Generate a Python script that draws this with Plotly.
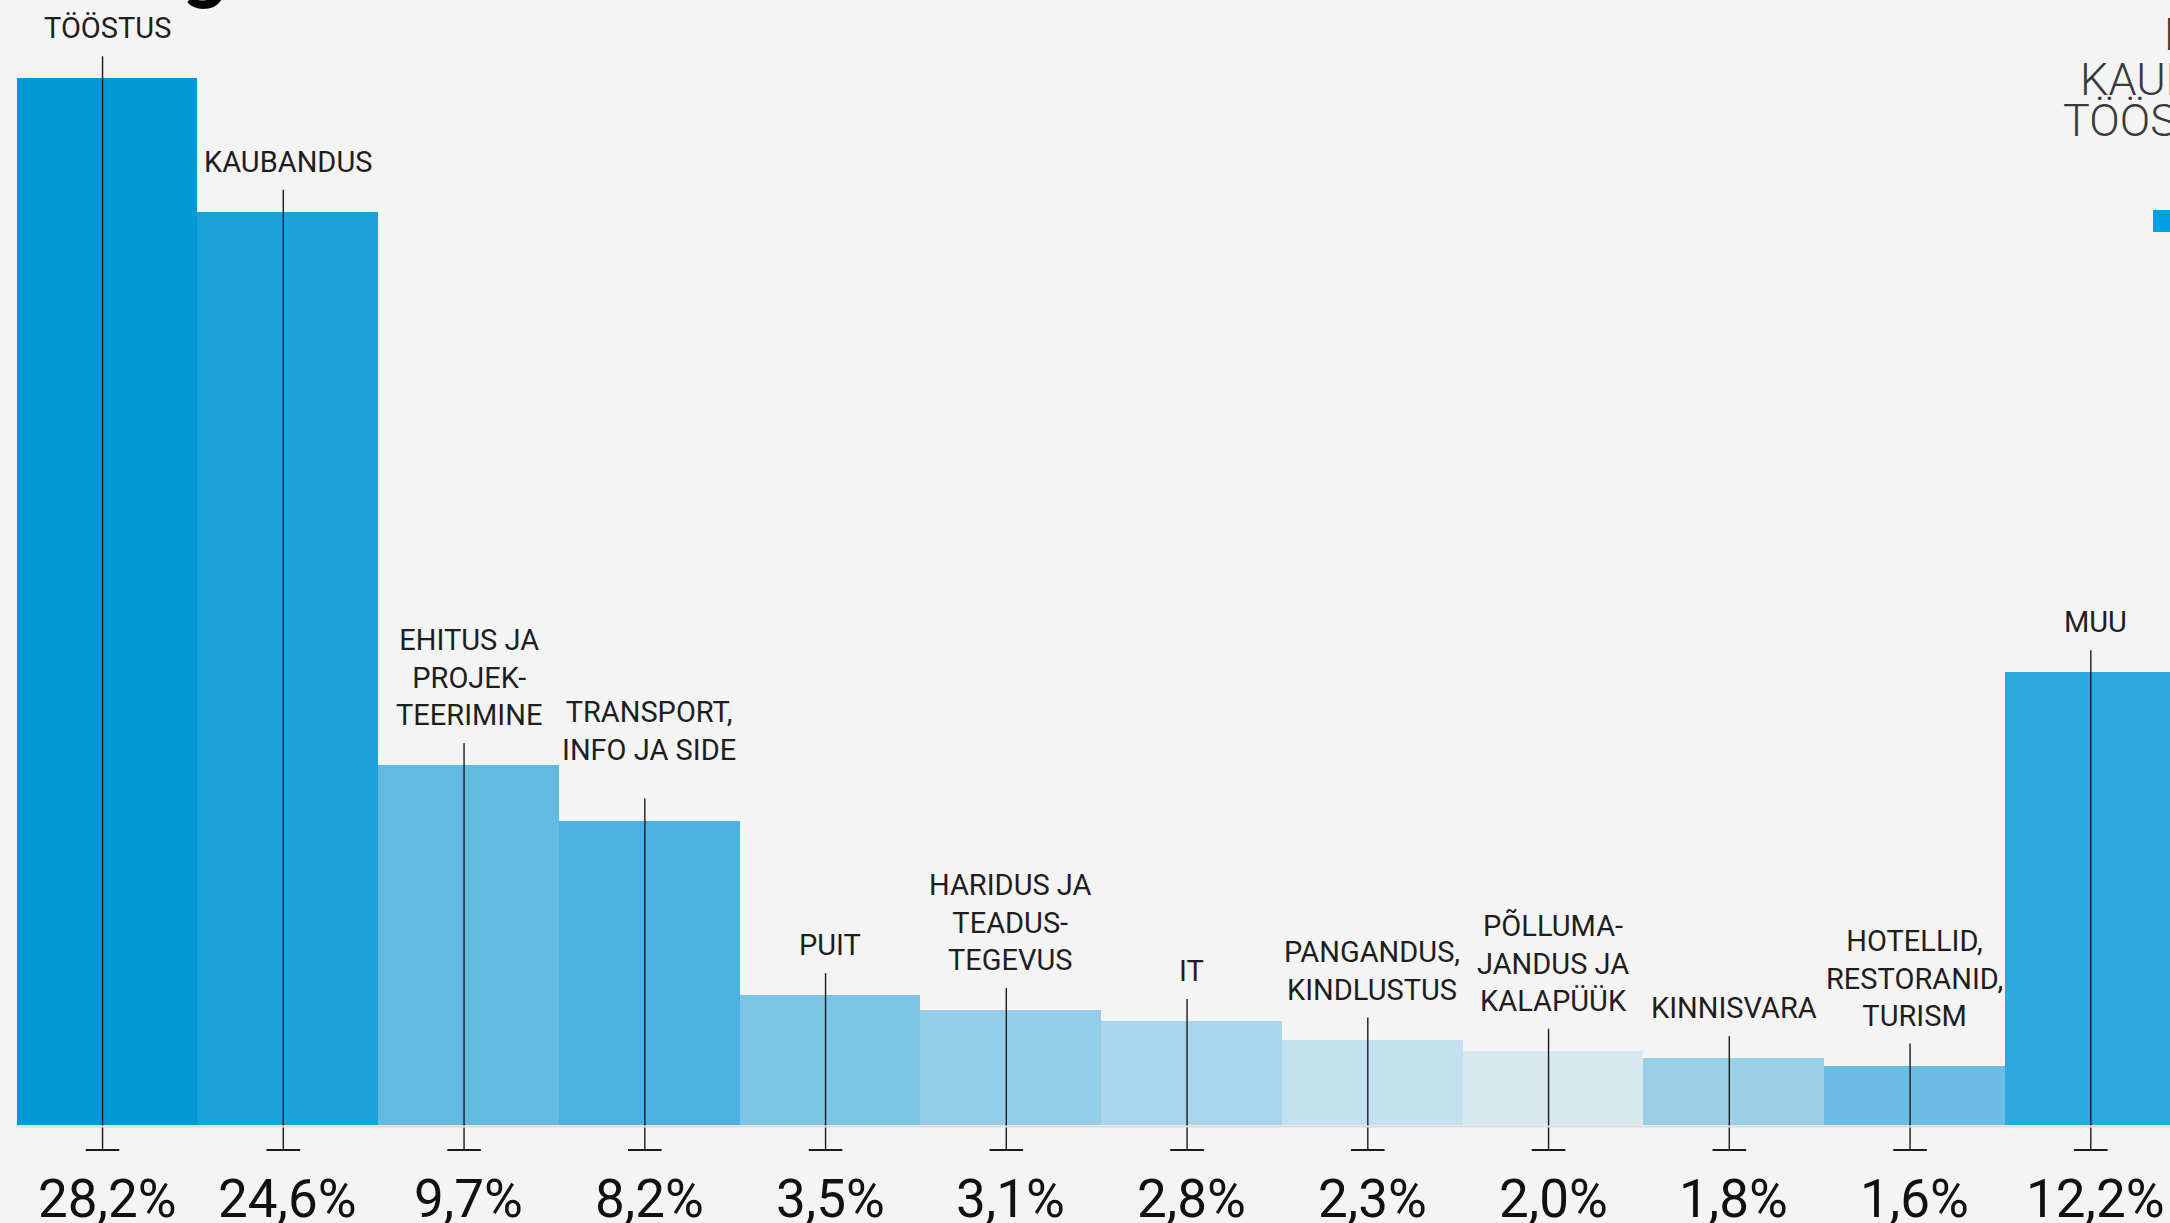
import plotly.graph_objects as go

# ---- data ----
categories = [
    "TÖÖSTUS", "KAUBANDUS", "EHITUS JA<br>PROJEK-<br>TEERIMINE",
    "TRANSPORT,<br>INFO JA SIDE", "PUIT", "HARIDUS JA<br>TEADUS-<br>TEGEVUS",
    "IT", "PANGANDUS,<br>KINDLUSTUS", "PÕLLUMA-<br>JANDUS JA<br>KALAPÜÜK",
    "KINNISVARA", "HOTELLID,<br>RESTORANID,<br>TURISM", "MUU",
]
values = [28.2, 24.6, 9.7, 8.2, 3.5, 3.1, 2.8, 2.3, 2.0, 1.8, 1.6, 12.2]
pct_labels = [f"{v:.1f}".replace(".", ",") + "%" for v in values]
legend_lines = ["EKSPORT", "KAUBANDUS", "TÖÖSTUS"]

# ---- styles ----
colors = ["#0098D6", "#1CA2DB", "#62BAE1", "#4AB1E0", "#7BC4E5", "#93CDE8",
          "#A9D6EA", "#C3E1EE", "#D8E8EF", "#9ACFE8", "#6BBDE3", "#2EA7DC"]
W, H = 2170, 1223
BG = "#F4F4F4"
PX_PER_UNIT = 37.12
BASE_PX = 1125
BAR_PX = 180.75
LEFT_PX = 16.7
Y_MAX = BASE_PX / PX_PER_UNIT
Y_MIN = -(H - BASE_PX) / PX_PER_UNIT
X_MIN = -0.5 - LEFT_PX / BAR_PX
X_MAX = X_MIN + W / BAR_PX
FONT = "Roboto"
INK = "#1a1a1a"

idx = list(range(len(values)))
tick_y = -25 / PX_PER_UNIT
line_lift = 22 / PX_PER_UNIT
line_dx = -0.025

fig = go.Figure()
fig.add_trace(go.Bar(
    x=idx, y=values, width=1.0,
    marker=dict(color=colors, line=dict(width=0)),
    hoverinfo="skip",
))

# leader lines
lx, ly = [], []
for i, v in zip(idx, values):
    lx += [i + line_dx, i + line_dx, None]
    ly += [v + line_lift, tick_y, None]
fig.add_trace(go.Scatter(x=lx, y=ly, mode="lines",
                         line=dict(color=INK, width=1.4),
                         hoverinfo="skip"))
fig.add_trace(go.Scatter(x=[i + line_dx for i in idx], y=[tick_y] * len(idx),
                         mode="markers",
                         marker=dict(symbol="line-ew-open", size=24, color=INK,
                                     line=dict(color=INK, width=1.8)),
                         hoverinfo="skip"))

# baseline
fig.add_shape(type="line", xref="x", yref="y", x0=-0.5, x1=X_MAX + 1,
              y0=-1.5 / PX_PER_UNIT, y1=-1.5 / PX_PER_UNIT,
              line=dict(color="#DCDCDC", width=2), layer="above")

annotations = []
extra_lift = {3: 21}
for i, (c, v, p) in enumerate(zip(categories, values, pct_labels)):
    annotations.append(dict(
        x=i, y=v, xref="x", yref="y", text=c, showarrow=False,
        xanchor="center", yanchor="bottom", align="center",
        yshift=31 + extra_lift.get(i, 0),
        font=dict(family=FONT, size=29, color="#1e1e1e"),
    ))
    annotations.append(dict(
        x=i, y=-(1199 - BASE_PX) / PX_PER_UNIT, xref="x", yref="y", text=p,
        showarrow=False, xanchor="center", yanchor="middle",
        font=dict(family=FONT, size=53, color="#111111"),
    ))

# partial title glyph at top
annotations.append(dict(
    x=205 / W, y=1 - 14 / H, xref="paper", yref="paper", text="<b>g</b>",
    showarrow=False, xanchor="center", yanchor="bottom",
    font=dict(family=FONT, size=80, color="#000000"),
))
# partial legend header at top right
for (txt, xpx, ytop) in zip(legend_lines, [2162, 2078, 2061], [6, 51, 92]):
    annotations.append(dict(
        x=xpx / W, y=1 - ytop / H, xref="paper", yref="paper", text=txt,
        showarrow=False, xanchor="left", yanchor="top",
        font=dict(family=FONT, size=45, color="#3a3a3a", weight=300),
    ))

fig.add_shape(type="rect", xref="paper", yref="paper",
              x0=2153 / W, x1=2200 / W, y0=1 - 232 / H, y1=1 - 210 / H,
              fillcolor="#009FE3", line=dict(width=0))

fig.update_layout(
    width=W, height=H,
    margin=dict(l=0, r=0, t=0, b=0),
    paper_bgcolor=BG, plot_bgcolor=BG,
    showlegend=False, bargap=0,
    xaxis=dict(range=[X_MIN, X_MAX], visible=False, fixedrange=True),
    yaxis=dict(range=[Y_MIN, Y_MAX], visible=False, fixedrange=True),
    annotations=annotations,
)
fig.write_html(
    "out.html",
    config={"displayModeBar": False},
    post_script="document.body.style.margin='0px';document.body.style.overflow='hidden';",
)
